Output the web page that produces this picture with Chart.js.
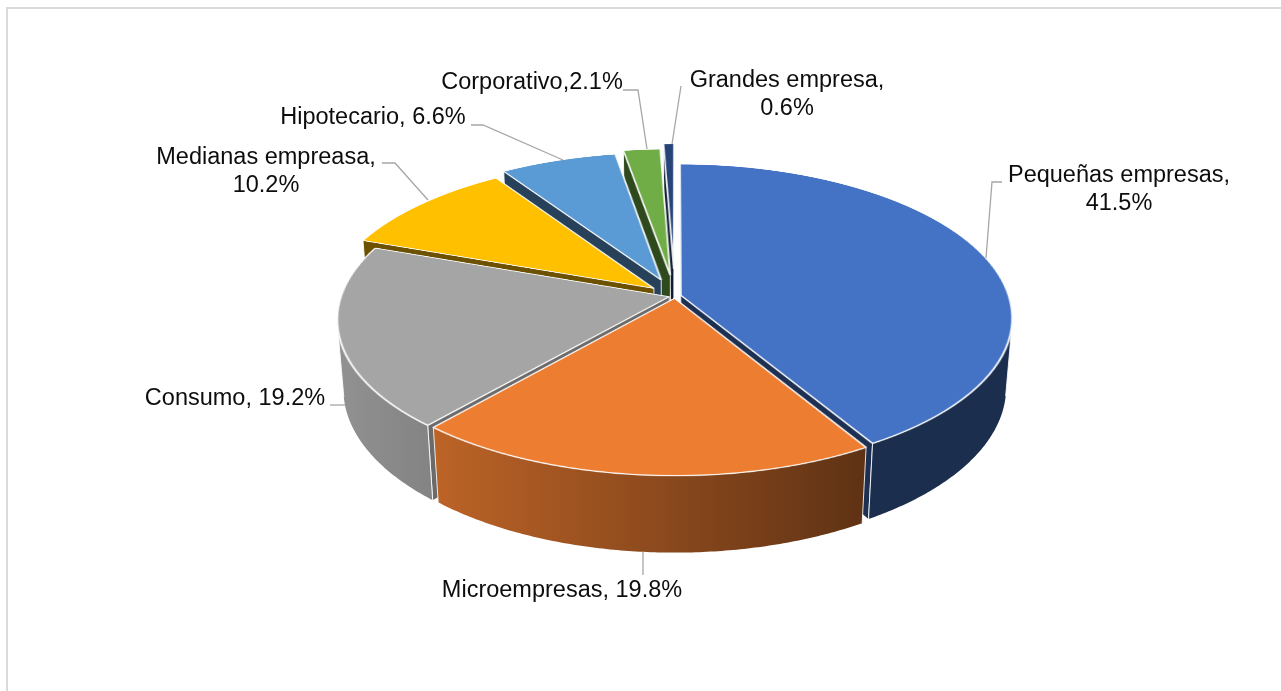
<!DOCTYPE html>
<html lang="es">
<head>
<meta charset="utf-8">
<title>Cartera por tipo de crédito</title>
<script src="https://cdn.jsdelivr.net/npm/chart.js@4.4.1/dist/chart.umd.min.js"></script>
<style>
    html, body { margin: 0; padding: 0; background: #fff; overflow: hidden; }
    #stage { position: relative; width: 1281px; height: 691px; overflow: hidden; }
    #frame {
        position: absolute; left: 6px; top: 7px; width: 1320px; height: 740px;
        border: 2px solid #dadada; box-sizing: border-box;
    }
    #walls, #labels { position: absolute; left: 0; top: 0; }
    /* the flat pie is tilted back in 3D, walls and labels sit on plain canvases */
    #pie {
        position: absolute; left: 255px; top: -124px;
        transform: perspective(1985px) rotateX(62.67deg);
    }
</style>
</head>
<body>
<div id="stage">
    <div id="frame"></div>
    <canvas id="walls" width="1281" height="691"></canvas>
    <canvas id="pie" width="840" height="840"></canvas>
    <canvas id="labels" width="1281" height="691"></canvas>
</div>

<script>
/* Data */
const categories = ['Pequeñas empresas', 'Microempresas', 'Consumo', 'Medianas empreasa', 'Hipotecario', 'Corporativo', 'Grandes empresa'];
const shares = [41.5, 19.8, 19.2, 10.2, 6.6, 2.1, 0.6];

/* Look of the slices */
const sliceColors = ['#4472C4', '#ED7D31', '#A5A5A5', '#FFC000', '#5B9BD5', '#70AD47', '#264478'];
const explode = [6, 5, 6, 27, 38, 46, 61];

/* Where each label goes and how its leader line runs */
const labelSpots = [
    { x: 1119, y: 176, wrap: true, line: [[1002, 182], [992, 182], [986, 258]] },
    { x: 562, y: 591, line: [[643, 552], [643, 575]] },
    { x: 235, y: 399, line: [[330, 405], [345, 405]] },
    { x: 266, y: 158, wrap: true, line: [[382, 163], [395, 163], [428, 200]] },
    { x: 373, y: 118, line: [[471, 125], [483, 125], [563, 160]] },
    { x: 532, y: 83, sep: ',', line: [[623, 90], [638, 90], [647, 149]] },
    { x: 787, y: 81, wrap: true, line: [[681, 86], [672, 144]] }
];

/* View: must agree with the CSS transform on #pie */
const CX = 675, CY = 296;
const SIZE = 840;
const RADIUS = 328;
const TILT = 62.67 * Math.PI / 180;
const PERSP = 1985;
const DEPTH = 79;

const SIN = Math.sin(TILT), COS = Math.cos(TILT);
const eye = [0, SIN * PERSP, COS * PERSP];

function project(x, y, z) {
    const y1 = COS * y - SIN * z;
    const z1 = SIN * y + COS * z;
    const w = 1 - z1 / PERSP;
    return [CX + x / w, CY + y1 / w];
}

function shade(hex, k) {
    const n = parseInt(hex.slice(1), 16);
    const r = Math.round(((n >> 16) & 255) * k);
    const g = Math.round(((n >> 8) & 255) * k);
    const b = Math.round((n & 255) * k);
    return `rgb(${r},${g},${b})`;
}

// slice geometry in the pie's own plane, taken from the chart's arcs
function sliceGeometry(chart) {
    const meta = chart.getDatasetMeta(0);
    return meta.data.map((arc, i) => {
        const mid = (arc.startAngle + arc.endAngle) / 2;
        return {
            arc,
            i,
            a0: arc.startAngle,
            a1: arc.endAngle,
            r: arc.outerRadius,
            dx: Math.cos(mid) * explode[i],
            dy: Math.sin(mid) * explode[i],
            ox: arc.x - SIZE / 2 + Math.cos(mid) * explode[i],
            oy: arc.y - SIZE / 2 + Math.sin(mid) * explode[i]
        };
    });
}

function drawWalls(chart) {
    const ctx = document.getElementById('walls').getContext('2d');
    ctx.clearRect(0, 0, 1281, 691);
    const walls = [];

    sliceGeometry(chart).forEach(s => {
        const rim = t => [s.ox + s.r * Math.cos(t), s.oy + s.r * Math.sin(t)];

        // curved outer wall, keep only the stretch that faces the eye
        const steps = Math.max(2, Math.ceil((s.a1 - s.a0) / 0.01));
        let run = [];
        for (let k = 0; k <= steps; k++) {
            const t = s.a0 + (s.a1 - s.a0) * k / steps;
            const p = rim(t);
            const facing = Math.cos(t) * (eye[0] - p[0]) + Math.sin(t) * (eye[1] - p[1]) > 0;
            if (facing) {
                run.push(p);
            } else if (run.length) {
                walls.push({ s, kind: 'outer', pts: run });
                run = [];
            }
        }
        if (run.length > 1) walls.push({ s, kind: 'outer', pts: run });

        // flat cut faces at both ends of the slice
        [[s.a0, [Math.sin(s.a0), -Math.cos(s.a0)]], [s.a1, [-Math.sin(s.a1), Math.cos(s.a1)]]].forEach(([t, n]) => {
            if (n[0] * (eye[0] - s.ox) + n[1] * (eye[1] - s.oy) <= 0) return;
            walls.push({ s, kind: 'side', pts: [[s.ox, s.oy], rim(t)], normal: n });
        });
    });

    // far walls first
    walls.forEach(w => {
        let mx = 0, my = 0;
        w.pts.forEach(p => { mx += p[0]; my += p[1]; });
        mx /= w.pts.length; my /= w.pts.length;
        w.dist = Math.hypot(eye[0] - mx, eye[1] - my, eye[2] + DEPTH / 2);
    });
    walls.sort((a, b) => b.dist - a.dist);

    walls.forEach(w => {
        const color = sliceColors[w.s.i];
        const top = w.pts.map(p => project(p[0], p[1], 0));
        const bottom = w.pts.map(p => project(p[0], p[1], -DEPTH)).reverse();

        ctx.beginPath();
        top.concat(bottom).forEach((p, k) => k ? ctx.lineTo(p[0], p[1]) : ctx.moveTo(p[0], p[1]));
        ctx.closePath();

        if (w.kind === 'outer') {
            const grad = ctx.createLinearGradient(340, 0, 865, 0);
            grad.addColorStop(0, shade(color, 0.88));
            grad.addColorStop(1, shade(color, 0.4));
            ctx.fillStyle = grad;
        } else {
            ctx.fillStyle = shade(color, w.normal[0] > 0 ? 0.65 : 0.42);
        }
        ctx.fill();

        // light edges down the corners
        ctx.strokeStyle = 'rgba(255,255,255,0.85)';
        ctx.lineWidth = 1;
        ctx.beginPath();
        ctx.moveTo(top[0][0], top[0][1]);
        ctx.lineTo(bottom[bottom.length - 1][0], bottom[bottom.length - 1][1]);
        ctx.moveTo(top[top.length - 1][0], top[top.length - 1][1]);
        ctx.lineTo(bottom[0][0], bottom[0][1]);
        ctx.stroke();
    });
}

function drawLabels() {
    const ctx = document.getElementById('labels').getContext('2d');
    ctx.clearRect(0, 0, 1281, 691);

    ctx.strokeStyle = '#a6a6a6';
    ctx.lineWidth = 1.3;
    labelSpots.forEach(spot => {
        ctx.beginPath();
        spot.line.forEach((p, k) => k ? ctx.lineTo(p[0], p[1]) : ctx.moveTo(p[0], p[1]));
        ctx.stroke();
    });

    ctx.fillStyle = '#0d0d0d';
    ctx.font = '23.5px "Liberation Sans", Arial, sans-serif';
    ctx.textAlign = 'center';
    ctx.textBaseline = 'middle';
    categories.forEach((name, i) => {
        const spot = labelSpots[i];
        const value = shares[i].toFixed(1) + '%';
        if (spot.wrap) {
            ctx.fillText(name + ',', spot.x, spot.y);
            ctx.fillText(value, spot.x, spot.y + 28);
        } else {
            ctx.fillText(name + (spot.sep || ', ') + value, spot.x, spot.y);
        }
    });
}

// draws every arc pushed out along its middle angle, then the walls and labels
const explodedPie = {
    id: 'explodedPie',
    beforeDatasetsDraw(chart) {
        const ctx = chart.ctx;
        sliceGeometry(chart).forEach(s => {
            ctx.save();
            ctx.translate(s.dx, s.dy);
            s.arc.draw(ctx);
            ctx.restore();
        });
        return false;
    },
    afterDraw(chart) {
        drawWalls(chart);
        drawLabels();
    }
};

const pieChart = new Chart(document.getElementById('pie'), {
    type: 'pie',
    data: {
        labels: categories,
        datasets: [{
            data: shares,
            backgroundColor: sliceColors,
            borderColor: 'rgba(255,255,255,0.9)',
            borderWidth: 2
        }]
    },
    options: {
        responsive: false,
        devicePixelRatio: 2,
        animation: false,
        events: [],
        radius: RADIUS,
        layout: { padding: 0 },
        plugins: {
            legend: { display: false },
            tooltip: { enabled: false }
        }
    },
    plugins: [explodedPie]
});
</script>
</body>
</html>
